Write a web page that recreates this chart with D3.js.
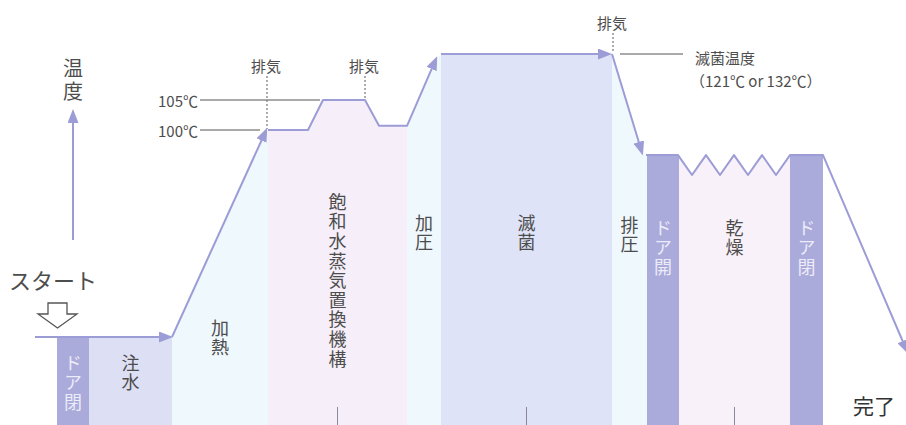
<!DOCTYPE html>
<html>
<head>
<meta charset="utf-8">
<script src="https://cdn.jsdelivr.net/npm/d3@7"></script>
<style>
    body { margin: 0; background: #fff; }
    svg { display: block; font-family: "Noto Sans CJK JP", "Noto Sans", sans-serif; }
    .vert { writing-mode: vertical-rl; text-orientation: upright; }
</style>
</head>
<body>
<div id="chart"></div>
<script>
// process phases, time in arbitrary cycle units
const phaseNames = ["ドア閉", "注水", "加熱", "飽和水蒸気置換機構", "加圧", "滅菌", "排圧", "ドア開", "乾燥", "ドア閉"];
const phaseStart = [2.2, 5.4, 13.7, 23.3, 37.2, 40.6, 57.7, 61.2, 64.4, 75.5];
const phaseEnd = [5.4, 13.7, 23.3, 37.2, 40.6, 57.7, 61.2, 64.4, 75.5, 78.8];
const phaseKind = ["door", "water", "heat", "purge", "heat", "steril", "heat", "door", "dry", "door"];
const phaseTick = [false, false, false, true, false, true, false, false, true, false];

// temperature profile, split where the arrows are
const segTime = [
    [0, 13.5],
    [13.7, 23.1],
    [23.3, 27.3, 28.8, 33.0, 34.4, 37.2, 40.1],
    [40.6, 57.4],
    [57.7, 60.7],
    [61.1, 64.3, 65.7, 67.1, 68.5, 69.9, 71.3, 72.7, 74.1, 75.5, 78.8, 87.2]
];
const segTemp = [
    [20, 20],
    [20, 99.8],
    [100, 100, 105, 105, 100.7, 100.7, 119.3],
    [121, 121],
    [121, 91.3],
    [90.3, 90.3, 82.6, 90.3, 82.6, 90.3, 82.6, 90.3, 82.6, 90.3, 90.3, 14.5]
];
const segArrow = [true, true, true, true, true, true];

// reference temperatures and vent points
const refTemps = [105, 100];
const refLabels = ["105℃", "100℃"];
const ventTime = [23.2, 33.0, 57.8];
const ventTemp = [100, 105, 121];

let width = 906,
    height = 425;

let colors = {
    door: "#aaaadb",
    water: "#dde0f5",
    heat: "#eff8fd",
    purge: "#f6eff9",
    steril: "#dfe3f7",
    dry: "#f8f1f9"
};
let lineColor = "#9c9cd6",
    textColor = "#4d4d4d";

let x = d3.scaleLinear().domain([0, 87.1]).range([35, 906]);
// schematic temperature axis, not to scale
let y = d3.scaleLinear().domain([20, 100, 105, 121]).range([337, 130, 100, 54]);

let svg = d3.select("#chart")
    .append("svg")
    .attr("width", width)
    .attr("height", height);

let defs = svg.append("defs");
defs.append("marker")
    .attr("id", "arrow")
    .attr("markerUnits", "userSpaceOnUse")
    .attr("markerWidth", 14)
    .attr("markerHeight", 11)
    .attr("refX", 11)
    .attr("refY", 5.5)
    .attr("orient", "auto")
    .append("path")
    .attr("d", "M0,0L14,5.5L0,11Z")
    .attr("fill", lineColor);

// area under the whole profile, used to cut the phase bands
let allPts = [];
segTime.forEach((s, i) => s.forEach((t, j) => allPts.push({t: t, temp: segTemp[i][j]})));

let area = d3.area()
    .x(d => x(d.t))
    .y0(height)
    .y1(d => y(d.temp));

defs.append("clipPath")
    .attr("id", "under")
    .append("path")
    .attr("d", area(allPts));

let phases = phaseNames.map((name, i) => ({
    name: name,
    start: phaseStart[i],
    end: phaseEnd[i],
    kind: phaseKind[i],
    tick: phaseTick[i]
}));

svg.append("g")
    .attr("clip-path", "url(#under)")
    .selectAll("rect")
    .data(phases)
    .enter()
    .append("rect")
    .attr("x", d => x(d.start))
    .attr("width", d => x(d.end) - x(d.start))
    .attr("y", 0)
    .attr("height", height)
    .attr("fill", d => colors[d.kind]);

// phase labels, written top to bottom
let labelTop = [354, 354, 319, 193, 214, 214, 216, 219, 219, 219];
phases.forEach((p, i) => {
    let cx = (x(p.start) + x(p.end)) / 2;
    svg.append("text")
        .attr("class", "vert")
        .attr("x", cx)
        .attr("y", labelTop[i])
        .attr("font-size", 18)
        .attr("letter-spacing", 1.6)
        .attr("fill", p.kind === "door" ? "#ececf8" : textColor)
        .text(p.name);
    if (p.tick) {
        svg.append("line")
            .attr("x1", cx).attr("x2", cx)
            .attr("y1", 407).attr("y2", height)
            .attr("stroke", "#8a8a9a")
            .attr("stroke-width", 1);
    }
});

// reference temperature lines
let refEnd = [28.5, 22.5];
refTemps.forEach((v, i) => {
    svg.append("line")
        .attr("x1", 200).attr("x2", x(refEnd[i]))
        .attr("y1", y(v)).attr("y2", y(v))
        .attr("stroke", "#555")
        .attr("stroke-width", 1);
    svg.append("text")
        .attr("x", 198)
        .attr("y", y(v))
        .attr("text-anchor", "end")
        .attr("dominant-baseline", "central")
        .attr("font-size", 15)
        .attr("fill", textColor)
        .text(refLabels[i]);
});

// vents
let ventLabelY = [65, 65, 22];
ventTime.forEach((t, i) => {
    svg.append("line")
        .attr("x1", x(t)).attr("x2", x(t))
        .attr("y1", ventLabelY[i] + 11)
        .attr("y2", y(ventTemp[i]) - 1)
        .attr("stroke", "#777")
        .attr("stroke-width", 1.2)
        .attr("stroke-dasharray", "2,2");
    svg.append("text")
        .attr("x", x(t) - 1)
        .attr("y", ventLabelY[i])
        .attr("text-anchor", "middle")
        .attr("dominant-baseline", "central")
        .attr("font-size", 15)
        .attr("fill", textColor)
        .text("排気");
});

// sterilization temperature note
svg.append("line")
    .attr("x1", 620).attr("x2", 683)
    .attr("y1", y(121)).attr("y2", y(121))
    .attr("stroke", "#555")
    .attr("stroke-width", 1);
svg.append("text")
    .attr("x", 695).attr("y", 57)
    .attr("dominant-baseline", "central")
    .attr("font-size", 15)
    .attr("fill", textColor)
    .text("滅菌温度");
svg.append("text")
    .attr("x", 690).attr("y", 80)
    .attr("dominant-baseline", "central")
    .attr("font-size", 15)
    .attr("fill", textColor)
    .text("（121℃ or 132℃）");

// temperature profile lines
let line = d3.line()
    .x(d => x(d.t))
    .y(d => y(d.temp));

segTime.forEach((s, i) => {
    let pts = s.map((t, j) => ({t: t, temp: segTemp[i][j]}));
    svg.append("path")
        .attr("d", line(pts))
        .attr("fill", "none")
        .attr("stroke", lineColor)
        .attr("stroke-width", 2)
        .attr("stroke-linejoin", "round")
        .attr("marker-end", segArrow[i] ? "url(#arrow)" : null);
});

// temperature axis
svg.append("line")
    .attr("x1", 73).attr("x2", 73)
    .attr("y1", 240).attr("y2", 112)
    .attr("stroke", lineColor)
    .attr("stroke-width", 2)
    .attr("marker-end", "url(#arrow)");
svg.append("text")
    .attr("class", "vert")
    .attr("x", 73)
    .attr("y", 58)
    .attr("font-size", 20)
    .attr("letter-spacing", 3)
    .attr("fill", textColor)
    .text("温度");

// start / finish
svg.append("text")
    .attr("x", 9).attr("y", 279)
    .attr("dominant-baseline", "central")
    .attr("font-size", 22)
    .attr("fill", textColor)
    .text("スタート");
svg.append("path")
    .attr("d", "M48,303L67,303L67,314L77,314L57.5,328L38,314L48,314Z")
    .attr("fill", "#fff")
    .attr("stroke", "#555")
    .attr("stroke-width", 1.3)
    .attr("stroke-linejoin", "miter");
svg.append("text")
    .attr("x", 853).attr("y", 405)
    .attr("dominant-baseline", "central")
    .attr("font-size", 21)
    .attr("fill", "#333")
    .text("完了");
</script>
</body>
</html>
